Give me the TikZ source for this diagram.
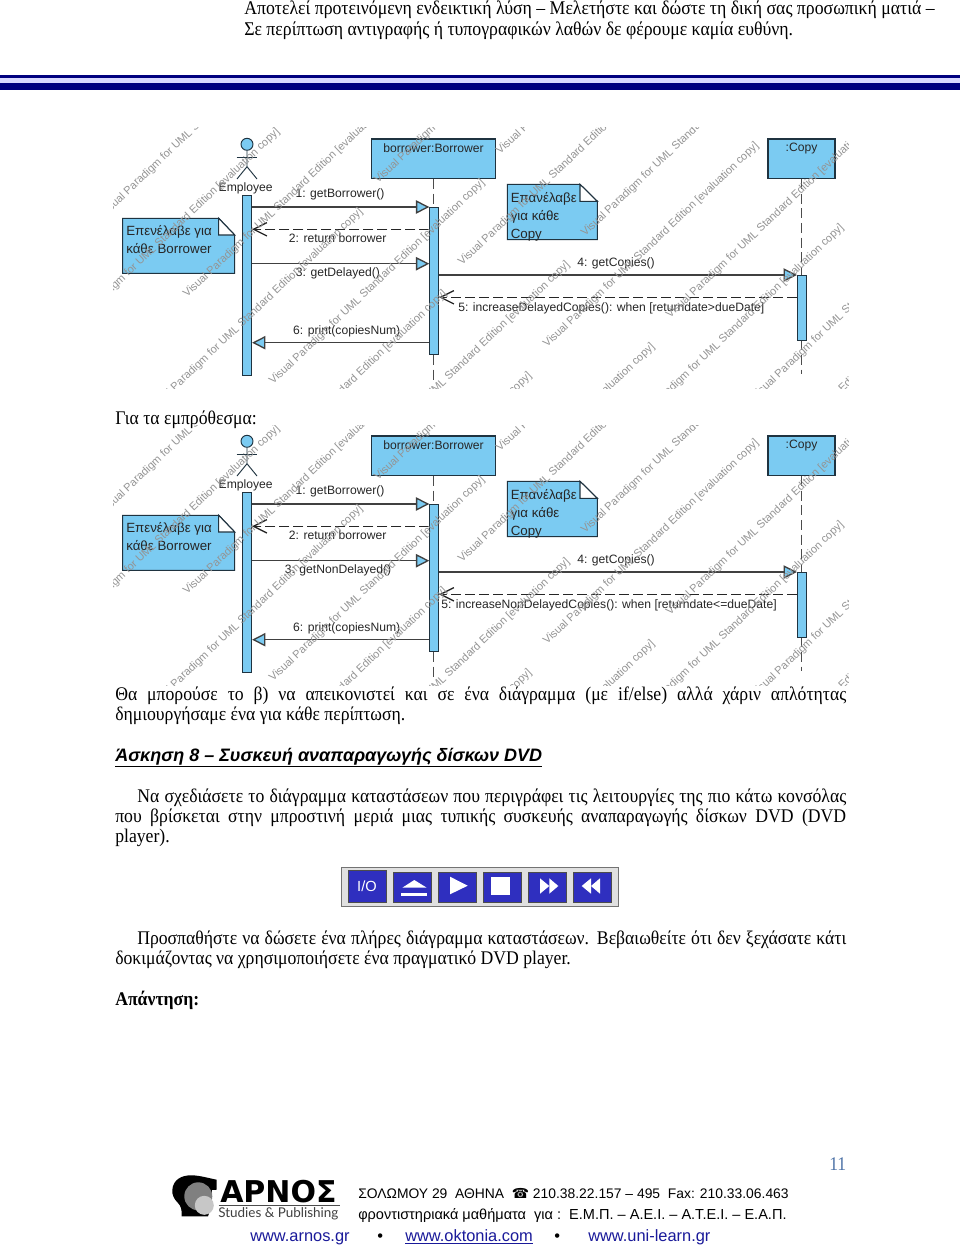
\documentclass[tikz,border=0pt]{standalone}
\usepackage{fontspec}
\setmainfont{Liberation Serif}[FakeStretch=0.915]
\setsansfont{Liberation Sans}
\newfontfamily\phonefont{DejaVu Sans}
\newfontfamily\lettersfont{Lato}
\usetikzlibrary{arrows.meta, positioning}
\definecolor{umlblue}{HTML}{7BCBF2}
\definecolor{umldark}{HTML}{1F3340}
\definecolor{navybar}{HTML}{00007F}
\definecolor{btnblue}{HTML}{2F2FBF}
\definecolor{linkblue}{HTML}{1A1A9A}
\definecolor{pagenum}{HTML}{4F74A8}

\begin{document}
\begin{tikzpicture}[
      x=0.75pt, y=-0.75pt,
      bodytext/.style={anchor=base west, inner sep=0, font=\fontsize{14.5pt}{15.4pt}\selectfont},
      headtext/.style={anchor=base west, inner sep=0, font=\fontsize{14.55pt}{15.4pt}\selectfont},
      foottext/.style={anchor=base west, inner sep=0, font=\sffamily\fontsize{10.4pt}{12pt}\selectfont},
      linktext/.style={anchor=base west, inner sep=0, text=linkblue, font=\sffamily\fontsize{12.3pt}{14pt}\selectfont},
      msg/.style={inner sep=0, text=black!85, font=\sffamily\fontsize{9.1pt}{11pt}\selectfont},
      notetext/.style={anchor=north west, inner sep=0, align=left, text=black!85, font=\sffamily\fontsize{10pt}{13.5pt}\selectfont},
      objbox/.style={draw=umldark, fill=umlblue, line width=0.8pt, inner sep=0, minimum height=39.3*0.75pt},
      activation/.style={draw=umldark, fill=umlblue, line width=0.6pt, inner sep=0, minimum width=9*0.75pt},
      notebox/.style={draw=umldark, fill=umlblue, line width=0.8pt},
      lifeline/.style={draw=black!70, line width=0.9pt, dash pattern=on 7.5pt off 3.5pt},
      call/.style={draw=black!75, line width=1pt, -{Triangle[length=10pt, width=10pt, fill=umlblue]}},
      reply/.style={draw=black!85, line width=1pt, dash pattern=on 7.5pt off 3pt, -{Straight Barb[length=10pt, width=10pt]}},
      mark text/.style={anchor=base west, inner sep=0, rotate=43.5, text=black!42, font=\sffamily\fontsize{8.25pt}{9pt}\selectfont},
      playbtn/.style={draw=black!70, fill=btnblue, line width=0.4pt, inner sep=0, minimum width=37.6*0.75pt, minimum height=30*0.75pt, text=white, font=\sffamily\fontsize{11pt}{12pt}\selectfont}
    ]
    \useasboundingbox (0,0) rectangle (960,1245);
    \fill[white] (0,0) rectangle (960,1245);

    \node[headtext] (headone) at (244,15) {Αποτελεί προτεινόμενη ενδεικτική λύση – Μελετήστε και δώστε τη δική σας προσωπική ματιά –};
    \node[headtext] (headtwo) at (244,35.5) {Σε περίπτωση αντιγραφής ή τυπογραφικών λαθών δε φέρουμε καμία ευθύνη.};

    \fill[navybar] (0,75) rectangle (960,78);
    \fill[blue!15] (0,78) rectangle (960,82.7);
    \fill[navybar] (0,82.7) rectangle (960,90);

    \foreach \dy/\msgthree/\msgfive/\xfive in {
        0/{3: getDelayed()}/{5: increaseDelayedCopies(): when [returndate>dueDate]}/458,
        297/{3: getNonDelayed()}/{5: increaseNonDelayedCopies(): when [returndate<=dueDate]}/441} {
      \begin{scope}[shift={(0,\dy)}]
        \node[objbox, minimum width=123.6*0.75pt] (borrowerbox) at (433.5,158.65) {};
        \node[msg, below=3.5pt of borrowerbox.north] (borrowerlabel) {borrower:Borrower};
        \node[objbox, minimum width=67*0.75pt] (copybox) at (801.5,158.65) {};
        \node[msg, below=3.5pt of copybox.north] (copylabel) {:Copy};
        \coordinate (borrowerend) at (433.5,383);
        \coordinate (copyend) at (801.5,374.3);
        \draw[lifeline] (borrowerbox.south) -- (borrowerend);
        \draw[lifeline] (copybox.south) -- (copyend);

        \node[circle, draw=umldark, fill=umlblue, line width=0.7pt, inner sep=0, minimum size=12*0.75pt] (actorhead) at (247,144.3) {};
        \coordinate (actorhip) at (247,166.7);
        \coordinate (actorleft) at (237,179);
        \coordinate (actorright) at (257,179);
        \coordinate (armleft) at (236.7,157);
        \coordinate (armright) at (257,157);
        \draw[umldark, line width=0.7pt] (actorhead.south) -- (actorhip) -- (actorleft);
        \draw[umldark, line width=0.7pt] (actorhip) -- (actorright);
        \draw[umldark, line width=0.7pt] (armleft) -- (armright);
        \node[msg] (employee) at (245.7,188.7) {Employee};

        \node[activation, minimum height=179.7*0.75pt] (employeebar) at (247.2,285.15) {};
        \node[activation, minimum height=147.3*0.75pt] (borrowerbar) at (434.2,280.65) {};
        \node[activation, minimum height=65.3*0.75pt] (copybar) at (801.8,307.65) {};

        \coordinate (msga) at (0,207);
        \coordinate (msgb) at (0,229.3);
        \coordinate (msgc) at (0,263.7);
        \coordinate (msgd) at (0,275);
        \coordinate (msge) at (0,297.3);
        \coordinate (msgf) at (0,342.7);
        \draw[call] (employeebar.east |- msga) -- (borrowerbar.west |- msga);
        \draw[reply] (borrowerbar.west |- msgb) -- (employeebar.east |- msgb);
        \draw[call] (employeebar.east |- msgc) -- (borrowerbar.west |- msgc);
        \draw[call] (borrowerbar.east |- msgd) -- (copybar.west |- msgd);
        \draw[reply] (copybar.west |- msge) -- (borrowerbar.east |- msge);
        \draw[call] (borrowerbar.west |- msgf) -- (employeebar.east |- msgf);

        \node[msg] (labela) at (340,194) {1: getBorrower()};
        \node[msg] (labelb) at (337.7,238) {2: return borrower};
        \node[msg] (labelc) at (338,273.5) {\msgthree};
        \node[msg] (labeld) at (616,263) {4: getCopies()};
        \node[msg, anchor=west] (labele) at (\xfive,308) {\msgfive};
        \node[msg] (labelf) at (346.7,331) {6: print(copiesNum)};

        \draw[notebox] (122.7,218.3) -- (218.7,218.3) -- (234.7,235) -- (234.7,273.3) -- (122.7,273.3) -- cycle;
        \draw[notebox, fill=white] (218.7,218.3) -- (234.7,235) -- (218.7,235) -- cycle;
        \node[notetext] (noteborrower) at (126,225.5) {Επενέλαβε για\\κάθε Borrower};
        \draw[notebox] (507.3,184.3) -- (580,184.3) -- (597.3,201.3) -- (597.3,239.7) -- (507.3,239.7) -- cycle;
        \draw[notebox, fill=white] (580,184.3) -- (597.3,201.3) -- (580,201.3) -- cycle;
        \node[notetext] (notecopy) at (510.5,192) {Επανέλαβε\\για κάθε\\Copy};

        \begin{scope}
          \clip (113,128) rectangle (848,388);
          \foreach \mx/\my in {104/218,187/298,273/385,358/467,443/549,500/155,585/237,670/319,755/401,
              68/334,151/414,235/496,320/578,378/184,462/266,547/348,632/430,717/512}
            \node[mark text] at (\mx,\my) {Visual Paradigm for UML Standard Edition [evaluation copy]};
        \end{scope}
      \end{scope}
    }

    \node[bodytext] (ontime) at (115,424) {Για τα εμπρόθεσμα:};
    \node[bodytext] (thetaone) at (115,700) {\makebox[548.25pt][s]{Θα μπορούσε το β) να απεικονιστεί και σε ένα διάγραμμα (με if/else) αλλά χάριν απλότητας}};
    \node[bodytext] (thetatwo) at (115,720) {δημιουργήσαμε ένα για κάθε περίπτωση.};

    \node[bodytext, font=\sffamily\bfseries\itshape\fontsize{13.5pt}{16pt}\selectfont] (exercise) at (115,761) {\underline{Άσκηση 8 – Συσκευή αναπαραγωγής δίσκων DVD}};

    \node[bodytext] (taskone) at (137,802) {\makebox[531.75pt][s]{Να σχεδιάσετε το διάγραμμα καταστάσεων που περιγράφει τις λειτουργίες της πιο κάτω κονσόλας}};
    \node[bodytext] (tasktwo) at (115,822) {\makebox[548.25pt][s]{που βρίσκεται στην μπροστινή μεριά μιας τυπικής συσκευής αναπαραγωγής δίσκων DVD (DVD}};
    \node[bodytext] (taskthree) at (115,842) {player).};

    \draw[draw=black!55, fill=black!12, line width=0.7pt] (341.3,867.3) rectangle (618.7,906.7);
    \node[playbtn, minimum width=38*0.75pt, minimum height=32.3*0.75pt] (btnio) at (367,886.2) {I/O};
    \foreach \nm/\cx in {btneject/412.3,btnplay/457.2,btnstop/502.5,btnforward/547.5,btnrewind/592.5}
      \node[playbtn] (\nm) at (\cx,887.3) {};
    \fill[white] (402.3,887.7) -- (426.7,887.7) -- (414.3,880) -- cycle;
    \fill[white] (401.3,892.7) rectangle (427.3,896.3);
    \fill[white] (450,876.7) -- (450,894.3) -- (467.7,885.7) -- cycle;
    \fill[white] (491,876.7) rectangle (510,895);
    \fill[white] (540,878.3) -- (540,893.7) -- (549.3,886) -- cycle;
    \fill[white] (549.3,878.3) -- (549.3,893.7) -- (558.3,886) -- cycle;
    \fill[white] (600,878.3) -- (600,893.7) -- (591,886) -- cycle;
    \fill[white] (591,878.3) -- (591,893.7) -- (581.7,886) -- cycle;

    \node[bodytext] (tryone) at (137,944) {\makebox[531.75pt][s]{Προσπαθήστε να δώσετε ένα πλήρες διάγραμμα καταστάσεων. Βεβαιωθείτε ότι δεν ξεχάσατε κάτι}};
    \node[bodytext] (trytwo) at (115,964) {δοκιμάζοντας να χρησιμοποιήσετε ένα πραγματικό DVD player.};
    \node[bodytext, font=\bfseries\fontsize{14.5pt}{15.4pt}\selectfont] (answer) at (115,1005) {Απάντηση:};

    \node[bodytext, text=pagenum] (pageno) at (829,1170) {11};

    \fill[black] (216.7,1179.7) -- (216.7,1189.7) -- (212,1190) .. controls (212,1200) and (211,1208) .. (208,1216.3) -- (181.7,1216.3) .. controls (182,1210) and (181,1206) .. (178,1203) .. controls (174,1199) and (172,1195) .. (172.3,1190) .. controls (173,1180) and (181,1175) .. (192,1175.3) .. controls (200,1175.5) and (208,1178) .. (216.7,1179.7) -- cycle;
    \fill[black!50] (198.3,1196.3) circle[radius=14];
    \begin{scope}
      \clip (170,1170) rectangle (216,1216.3);
      \fill[black!22] (204.3,1205.3) circle[radius=9.5];
    \end{scope}
    \node[bodytext, font=\phonefont\bfseries\fontsize{22.5pt}{24pt}\selectfont] (logoname) at (220,1202) {ΑΡΝΟΣ};
    \coordinate (logorulea) at (218.5,1205.3);
    \coordinate (logoruleb) at (340,1205.3);
    \draw[black!70, line width=0.7pt] (logorulea) -- (logoruleb);
    \node[bodytext, text=black!75, font=\lettersfont\fontsize{10.1pt}{12pt}\selectfont] (logosub) at (218,1217) {Studies \& Publishing};

    \node[foottext] (footone) at (358,1198) {ΣΟΛΩΜΟΥ 29\ \ ΑΘΗΝΑ\ \ {\phonefont ☎} 210.38.22.157 – 495\ \ Fax: 210.33.06.463};
    \node[foottext, font=\sffamily\fontsize{10.9pt}{12pt}\selectfont] (foottwo) at (358,1219) {φροντιστηριακά μαθήματα\ \ για :\ \ Ε.Μ.Π. – Α.Ε.Ι. – Α.Τ.Ε.Ι. – Ε.Α.Π.};
    \node[linktext] (linkarnos) at (250,1241) {\underline{www.arnos.gr}};
    \node[linktext, text=black] (dotone) at (377,1241) {•};
    \node[linktext] (linkoktonia) at (405,1241) {\underline{www.oktonia.com}};
    \node[linktext, text=black] (dottwo) at (554,1241) {•};
    \node[linktext] (linkunilearn) at (588,1241) {\underline{www.uni-learn.gr}};
  \end{tikzpicture}
\end{document}
